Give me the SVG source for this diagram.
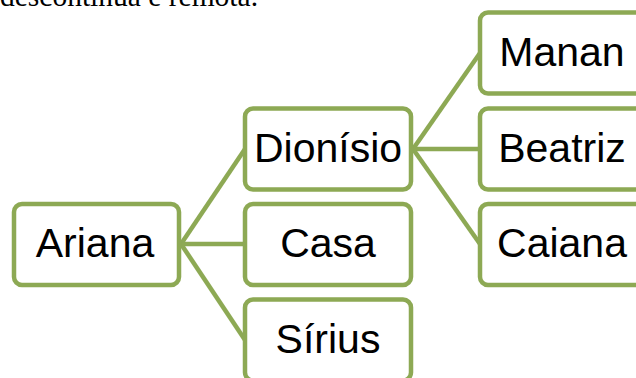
<svg xmlns="http://www.w3.org/2000/svg" width="636" height="378" viewBox="0 0 636 378">
<style>
.box{fill:#ffffff;stroke:#8DA954;stroke-width:4.5}
.lbl{font-family:"Liberation Sans",Arial,sans-serif;font-size:41px;fill:#000000;text-anchor:middle}
.con{stroke:#8DA954;stroke-width:4.5;fill:none}
.cap{font-family:"Liberation Serif","Times New Roman",serif;font-size:29.5px;fill:#000000}
</style>
<rect width="636" height="378" fill="#ffffff"/>
<text class="cap" x="0" y="6">descontínua e remota.</text>
<g id="connectors">
<line class="con" x1="181" y1="244" x2="245" y2="149"/>
<line class="con" x1="181" y1="244" x2="245" y2="244"/>
<line class="con" x1="181" y1="244" x2="245" y2="340"/>
<line class="con" x1="413" y1="149" x2="480" y2="53"/>
<line class="con" x1="413" y1="149" x2="480" y2="149"/>
<line class="con" x1="413" y1="149" x2="480" y2="244"/>
</g>
<g id="ariana"><rect class="box" x="14" y="204" width="165" height="81" rx="8"/><text class="lbl" x="95" y="257">Ariana</text></g>
<g id="dionisio"><rect class="box" x="245" y="108.5" width="166" height="81" rx="8"/><text class="lbl" x="328" y="162">Dionísio</text></g>
<g id="casa"><rect class="box" x="245" y="204" width="166" height="81" rx="8"/><text class="lbl" x="328" y="257">Casa</text></g>
<g id="sirius"><rect class="box" x="245" y="299.5" width="166" height="81" rx="8"/><text class="lbl" x="328" y="353">Sírius</text></g>
<g id="manan"><rect class="box" x="480" y="12.5" width="166" height="81" rx="8"/><text class="lbl" x="562" y="66">Manan</text></g>
<g id="beatriz"><rect class="box" x="480" y="108.5" width="166" height="81" rx="8"/><text class="lbl" x="562" y="162">Beatriz</text></g>
<g id="caiana"><rect class="box" x="480" y="204" width="166" height="81" rx="8"/><text class="lbl" x="562" y="257">Caiana</text></g>
</svg>
